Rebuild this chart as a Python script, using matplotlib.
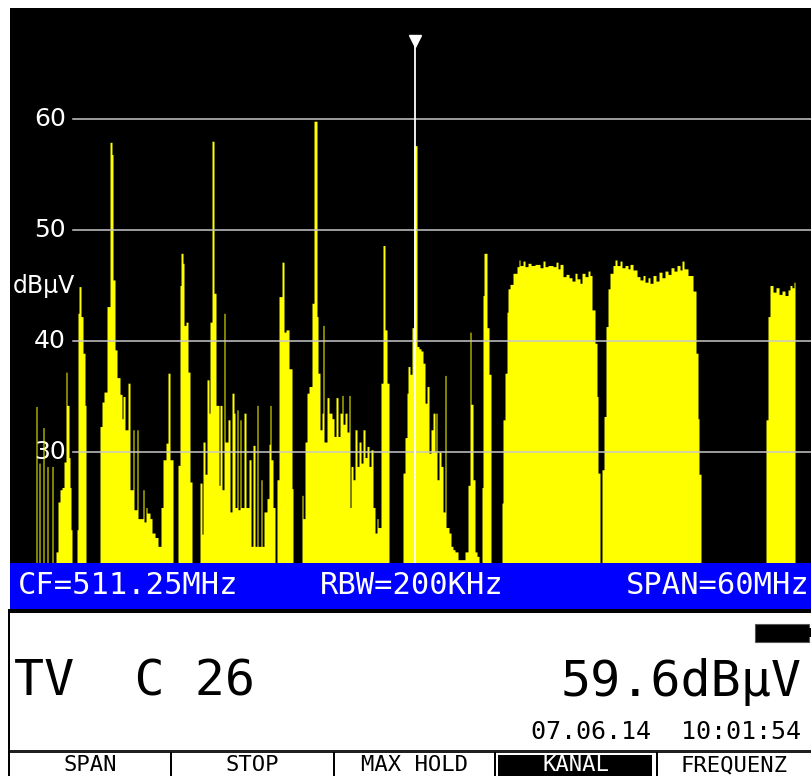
import numpy as np
import matplotlib
matplotlib.use("Agg")
import matplotlib.pyplot as plt
from matplotlib.patches import Rectangle
from matplotlib.transforms import blended_transform_factory

CF_MHZ = 511.25          # centre / marker frequency
BIN_MHZ = 0.079          # frequency step of one trace bin
MARKER_BIN = 405         # trace bin of the marker (C 26 vision carrier)
N_BINS = 802

# step trace: start bin of each segment and its level in dBuV
trace_bin = [0, 26, 27, 29, 30, 33, 34, 37, 38, 42, 43, 46, 48, 50, 52, 54, 56, 57, 59, 60,
             61, 62, 67, 68, 69, 71, 73, 75, 76, 90, 92, 94, 97, 100, 102, 103, 105, 107, 110, 112,
             113, 115, 118, 120, 123, 124, 127, 128, 133, 134, 136, 137, 140, 142, 145, 148, 151, 153, 156, 158,
             160, 163, 168, 170, 171, 173, 174, 176, 178, 180, 182, 190, 192, 193, 195, 197, 199, 200, 202, 204,
             206, 209, 210, 212, 214, 215, 218, 220, 222, 224, 225, 227, 228, 230, 231, 234, 236, 239, 241, 243,
             245, 247, 248, 251, 252, 254, 257, 259, 260, 261, 263, 265, 267, 269, 272, 274, 276, 279, 282, 283,
             292, 293, 295, 297, 299, 302, 304, 307, 308, 310, 312, 313, 314, 317, 319, 322, 324, 326, 328, 330,
             332, 333, 335, 337, 339, 340, 341, 343, 345, 347, 349, 351, 353, 355, 357, 359, 361, 363, 365, 367,
             368, 371, 373, 375, 377, 379, 393, 395, 397, 398, 400, 402, 404, 407, 409, 411, 413, 415, 417, 419,
             421, 423, 425, 426, 427, 429, 431, 433, 435, 436, 439, 441, 443, 445, 448, 455, 458, 460, 461, 463,
             465, 467, 469, 472, 473, 474, 477, 479, 481, 492, 493, 495, 497, 498, 500, 503, 507, 509, 510, 513,
             515, 518, 521, 525, 530, 533, 535, 538, 543, 546, 548, 550, 553, 556, 559, 562, 565, 567, 570, 572,
             575, 578, 580, 582, 585, 587, 588, 590, 592, 594, 596, 598, 600, 603, 605, 607, 610, 612, 615, 618,
             620, 623, 627, 630, 633, 635, 638, 640, 643, 646, 649, 652, 655, 658, 661, 664, 667, 670, 672, 674,
             678, 683, 686, 688, 689, 691, 756, 758, 760, 763, 766, 769, 772, 775, 778, 780, 782, 784, 785, 802]
trace_dbuv = [20, 34.1, 20, 29, 20, 32.2, 20, 28.7, 20, 28.7, 20, 21, 25.5, 26.6, 26.8, 29.1, 37.2, 34.2, 29.5, 26.8,
              23, 20, 23, 42.5, 44.9, 42.2, 38.9, 34.2, 20, 32.3, 34.5, 35.4, 43.1, 57.9, 56.8, 45.5, 39.2, 36.7, 35.2, 33,
              35, 32, 36.2, 26.6, 32, 24.8, 32, 24, 26.6, 23.7, 25, 24.5, 24, 22.7, 22.3, 21.5, 25, 29.3, 30.8, 37.1,
              29.3, 20, 28.8, 45, 47.9, 47, 41.4, 41.7, 37.2, 27.3, 20, 27.2, 22.6, 30.9, 28, 36.5, 33.5, 41.7, 58, 44.3,
              34.2, 27, 34.2, 26.6, 42.5, 30.9, 32.9, 24.6, 35.3, 33.5, 25, 33.8, 24.8, 32.9, 25, 33.5, 25, 29.3, 21.5, 30.6,
              21.5, 34.2, 21.5, 27.5, 21.5, 24.6, 25.8, 30.7, 34.2, 29.3, 25, 20, 27.5, 44, 47.1, 40.8, 41, 37.5, 26.7, 20,
              26.1, 24, 30.9, 35.3, 35.9, 43.4, 59.8, 42.2, 37.1, 32, 33.5, 41.4, 30.9, 34.9, 33.5, 33, 31.4, 34.9, 31.4, 33.5,
              35.1, 32.5, 33.5, 31.8, 35.1, 25, 28.7, 27.5, 32, 28.7, 30.9, 29, 32, 29.5, 30.5, 28.7, 30.2, 25, 22.7, 24,
              23.2, 36.2, 48.6, 41, 36.2, 20, 28.1, 31.3, 35.3, 37.7, 37, 41.2, 57.6, 39.5, 39.3, 39.1, 38, 34.4, 35.9, 29.9,
              32, 33.5, 30, 33.5, 27.5, 30, 28.7, 24.6, 36.9, 23.2, 22.7, 21.5, 21.2, 21, 20.3, 21, 27, 40.8, 34.3, 27.5,
              21, 20.6, 20, 26.8, 44.1, 47.9, 41.2, 37, 20, 25.4, 32.9, 37.1, 42.6, 44.7, 45.1, 46.1, 46.7, 47.3, 46.8, 47.2,
              46.7, 47.0, 46.8, 46.9, 46.6, 47.2, 46.7, 46.8, 46.7, 47.1, 46.5, 46.9, 45.8, 46.0, 45.7, 45.4, 46.1, 45.6, 45.2, 46.1,
              45.8, 46.3, 45.9, 42.8, 39.8, 35, 28.1, 20, 28.4, 33.2, 41.3, 44.7, 46.1, 46.8, 47.3, 46.8, 47.2, 46.6, 46.8, 46.5,
              46.9, 46.4, 45.8, 45.5, 45.9, 45.3, 45.7, 45.2, 45.9, 45.4, 46.2, 45.7, 46.3, 46.0, 46.6, 46.3, 46.8, 46.4, 47.2, 46.5,
              45.9, 44.5, 38.9, 33, 28, 20, 32.9, 42.2, 45, 44.4, 44.8, 44.2, 44.5, 44.1, 44.6, 45, 44.8, 45.3, 20, 20]

grid_levels = [30, 40, 50, 60]
tick_labels = ["30", "40", "50", "60"]
unit_label = "dBμV"
marker_level = "59.6dBμV"
status_items = ["CF=511.25MHz", "RBW=200KHz", "SPAN=60MHz"]
channel_text = "TV  C 26"
date_text = "07.06.14  10:01:54"
softkeys = ["SPAN", "STOP", "MAX HOLD", "KANAL", "FREQUENZ"]
active_key = "KANAL"

Y_MIN, Y_MAX = 20, 70

# ---------------- figure ----------------
W, H = 812, 776
fig = plt.figure(figsize=(W / 100, H / 100), dpi=100)
fig.patch.set_facecolor("white")

def fx(px):
    return px / W

def fy(py):
    return 1 - py / H

F_START = CF_MHZ - MARKER_BIN * BIN_MHZ
freq = F_START + np.array(trace_bin) * BIN_MHZ
level = np.array(trace_dbuv)

ax = fig.add_axes([fx(10), fy(563), fx(802), (563 - 8) / H])
ax.set_facecolor("black")
ax.set_xlim(F_START, F_START + N_BINS * BIN_MHZ)
ax.set_ylim(Y_MIN, Y_MAX)
ax.set_xticks([])
ax.set_yticks([])
for s in ax.spines.values():
    s.set_visible(False)

trans = blended_transform_factory(ax.transAxes, ax.transData)
for lv, lab in zip(grid_levels, tick_labels):
    ax.text(0.0698, lv, lab, transform=trans, ha="right", va="center",
            color="white", fontsize=18, family="DejaVu Sans", zorder=1)
    ax.axhline(lv, xmin=0.0786, xmax=1, color="#c8c8c8", lw=1.1, zorder=3)
ax.text(0.003, 45.0, unit_label, transform=trans, ha="left", va="center",
        color="white", fontsize=17, family="DejaVu Sans", zorder=1)

ax.fill_between(freq, level, Y_MIN, step="post", color="#ffff00", lw=0, zorder=2)

ax.plot([CF_MHZ, CF_MHZ], [Y_MIN, 66.6], color="white", lw=1.3, zorder=4)
ax.plot([CF_MHZ], [67.0], marker="v", color="white", markersize=8, zorder=5)

# ---------------- lower panel ----------------
ov = fig.add_axes([0, 0, 1, 1])
ov.set_xlim(0, W)
ov.set_ylim(H, 0)
ov.axis("off")

ov.add_patch(Rectangle((10, 563), 802, 46, color="#0000ff", lw=0))
ov.add_patch(Rectangle((10, 609), 802, 4, color="black", lw=0))
ov.add_patch(Rectangle((8, 609), 2, 167, color="black", lw=0))
ov.add_patch(Rectangle((10, 750), 802, 2.5, color="#202020", lw=0))

mono = "DejaVu Sans Mono"
ov.text(18, 586, status_items[0], color="white", fontsize=22, family=mono, ha="left", va="center")
ov.text(320, 586, status_items[1], color="white", fontsize=22, family=mono, ha="left", va="center")
ov.text(810, 586, status_items[2], color="white", fontsize=22, family=mono, ha="right", va="center")

# battery symbol
ov.add_patch(Rectangle((755, 624), 54, 18, facecolor="black", edgecolor="#555555", lw=0.8))
ov.add_patch(Rectangle((809, 628), 3, 9, color="black", lw=0))

ov.text(14, 682, channel_text, color="black", fontsize=36, family=mono, ha="left", va="center")
ov.text(802, 682, marker_level, color="black", fontsize=36, family=mono, ha="right", va="center")
ov.text(801, 732, date_text, color="black", fontsize=18, family=mono, ha="right", va="center")

# soft keys
key_edges = [10, 171, 334, 495, 657, 812]
for i, name in enumerate(softkeys):
    x0, x1 = key_edges[i], key_edges[i + 1]
    if i > 0:
        ov.add_patch(Rectangle((x0 - 1, 752), 2, 24, color="black", lw=0))
    if name == active_key:
        ov.add_patch(Rectangle((x0 + 3, 755), x1 - x0 - 8, 21, color="black", lw=0))
        c = "white"
    else:
        c = "black"
    ov.text((x0 + x1) / 2, 765, name, color=c, fontsize=16, family=mono, ha="center", va="center")

fig.savefig("out.png", dpi=100)
